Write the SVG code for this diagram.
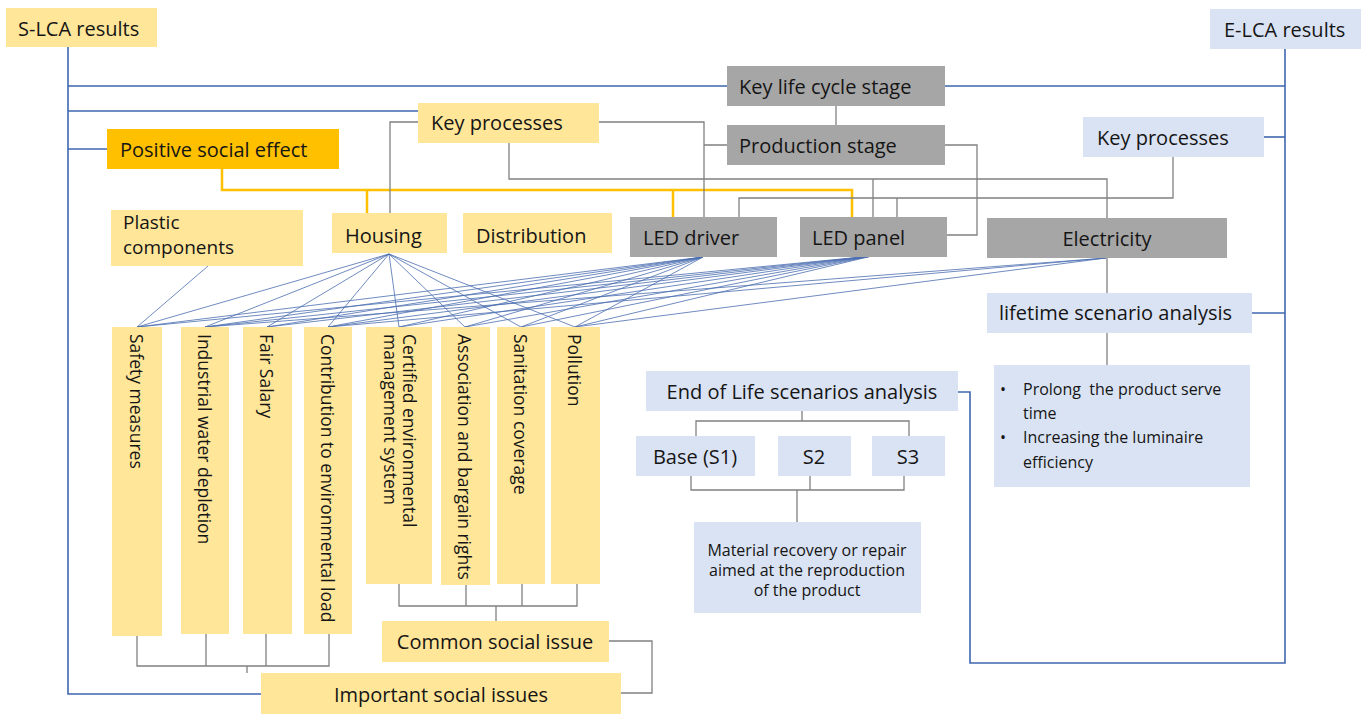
<svg xmlns="http://www.w3.org/2000/svg" width="1365" height="714" viewBox="0 0 1365 714">
<style>
.y{fill:#FFE699}.o{fill:#FFC000}.g{fill:#A6A6A6}.b{fill:#DAE3F3}
text{font-family:"Open Sans","Liberation Sans",sans-serif;fill:#151515}
.t{font-size:20px}.tv{font-size:17.5px}.ts{font-size:16px}
.m{text-anchor:middle}
.lb{stroke:#3F67AE;stroke-width:1.6;fill:none}
.lg{stroke:#808080;stroke-width:1.3;fill:none}
.lo{stroke:#FFC000;stroke-width:2.5;fill:none}
.lf{stroke:#4A6DB0;stroke-width:0.8;fill:none}
</style>
<rect width="1365" height="714" fill="#ffffff"/>
<g id="connectors">
<path class="lb" d="M68,47 V694 H261"/>
<path class="lb" d="M68,86 H727 M945,86 H1285"/>
<path class="lb" d="M68,111 H418"/>
<path class="lb" d="M68,149 H107"/>
<path class="lb" d="M1285,49 V663 H970 V392 H958"/>
<path class="lb" d="M1264,137 H1285"/>
<path class="lb" d="M1252,313 H1285"/>
<path class="lo" d="M222,169 V190 H852 V217 M367,190 V213 M673,190 V217"/>
<path class="lg" d="M836,106 V125"/>
<path class="lg" d="M418,122 H390 V213"/>
<path class="lg" d="M599,122 H704 V217 M727,145 H704"/>
<path class="lg" d="M945,145 H977 V235 H947"/>
<path class="lg" d="M509,143 V179 H1107 V218 M873,179 V217"/>
<path class="lg" d="M1173,157 V198 H739 V217 M897,198 V217"/>
<path class="lg" d="M1107,258 V293 M1107,333 V365"/>
<path class="lg" d="M802,411 V421 M696,436 V421 H909 V436"/>
<path class="lg" d="M691,476 V490 H904 V476 M810,476 V490 M797,490 V522"/>
<path class="lg" d="M137,636 V666 H329 V634 M206,634 V666 M266,634 V666 M247,666 V673"/>
<path class="lg" d="M399,584 V606 H577 V584 M466,585 V606 M522,584 V606 M496,606 V621"/>
<path class="lg" d="M609,641 H652 V693 H621"/>
<path class="lf" d="M208,266 L137,327"/>
<path class="lf" d="M389,254 L137,327 M389,254 L205,327 M389,254 L267,327 M389,254 L328,327 M389,254 L399,327 M389,254 L465,327 M389,254 L521,327 M389,254 L575,327"/>
<path class="lf" d="M703,257 L137,327 M703,257 L205,327 M703,257 L267,327 M703,257 L328,327 M703,257 L399,327 M703,257 L465,327 M703,257 L521,327 M703,257 L575,327"/>
<path class="lf" d="M872,256 L137,327 M872,256 L205,327 M872,256 L267,327 M872,256 L328,327 M872,256 L399,327 M872,256 L465,327 M872,256 L521,327 M872,256 L575,327"/>
<path class="lf" d="M1106,258 L205,327 M1106,258 L328,327 M1106,258 L575,327"/>
</g>
<g id="n-slca"><rect class="y" x="6" y="8" width="151" height="39"/><text class="t" x="18" y="36">S-LCA results</text></g>
<g id="n-elca"><rect class="b" x="1210" y="9" width="151" height="40"/><text class="t" x="1224" y="37">E-LCA results</text></g>
<g id="n-keystage"><rect class="g" x="727" y="66" width="218" height="40"/><text class="t" x="739" y="94">Key life cycle stage</text></g>
<g id="n-keyproc-s"><rect class="y" x="418" y="103" width="181" height="40"/><text class="t" x="431" y="130">Key processes</text></g>
<g id="n-prod"><rect class="g" x="727" y="125" width="218" height="40"/><text class="t" x="739" y="153">Production stage</text></g>
<g id="n-positive"><rect class="o" x="107" y="129" width="232" height="40"/><text class="t" x="120" y="157">Positive social effect</text></g>
<g id="n-keyproc-e"><rect class="b" x="1083" y="117" width="181" height="40"/><text class="t" x="1097" y="145">Key processes</text></g>
<g id="n-plastic"><rect class="y" x="111" y="210" width="192" height="56"/><text style="font-size:19px"><tspan x="123" y="229">Plastic</tspan><tspan x="123" y="254">components</tspan></text></g>
<g id="n-housing"><rect class="y" x="332" y="213" width="115" height="40"/><text class="t" x="345" y="243">Housing</text></g>
<g id="n-distribution"><rect class="y" x="463" y="213" width="149" height="40"/><text class="t" x="476" y="243">Distribution</text></g>
<g id="n-leddriver"><rect class="g" x="630" y="217" width="147" height="40"/><text class="t" x="643" y="245">LED driver</text></g>
<g id="n-ledpanel"><rect class="g" x="800" y="217" width="147" height="40"/><text class="t" x="812" y="245">LED panel</text></g>
<g id="n-electricity"><rect class="g" x="987" y="218" width="240" height="40"/><text class="t m" x="1107" y="246">Electricity</text></g>
<g id="n-lifetime"><rect class="b" x="987" y="293" width="265" height="40"/><text class="t" x="999" y="320">lifetime scenario analysis</text></g>
<g id="n-bullets"><rect class="b" x="994" y="365" width="256" height="122"/>
<text class="ts" xml:space="preserve"><tspan x="1000" y="395">•</tspan><tspan x="1023" y="395">Prolong  the product serve</tspan><tspan x="1023" y="419">time</tspan><tspan x="1000" y="443">•</tspan><tspan x="1023" y="443">Increasing the luminaire</tspan><tspan x="1023" y="468">efficiency</tspan></text></g>
<g id="n-eol"><rect class="b" x="646" y="371" width="312" height="40"/><text class="t m" x="802" y="399">End of Life scenarios analysis</text></g>
<g id="n-s1"><rect class="b" x="636" y="436" width="119" height="40"/><text class="t m" x="695" y="464">Base (S1)</text></g>
<g id="n-s2"><rect class="b" x="778" y="436" width="73" height="40"/><text class="t m" x="814" y="464">S2</text></g>
<g id="n-s3"><rect class="b" x="872" y="436" width="73" height="40"/><text class="t m" x="908" y="464">S3</text></g>
<g id="n-material"><rect class="b" x="694" y="522" width="227" height="91"/>
<text class="ts m"><tspan x="807" y="556">Material recovery or repair</tspan><tspan x="807" y="576">aimed at the reproduction</tspan><tspan x="807" y="596">of the product</tspan></text></g>
<g id="n-safety"><rect class="y" x="112" y="327" width="50" height="309"/><text class="tv" transform="translate(130,334) rotate(90)">Safety measures</text></g>
<g id="n-water"><rect class="y" x="181" y="327" width="48" height="307"/><text class="tv" transform="translate(198,334) rotate(90)">Industrial water depletion</text></g>
<g id="n-salary"><rect class="y" x="243" y="327" width="49" height="307"/><text class="tv" transform="translate(260,334) rotate(90)">Fair Salary</text></g>
<g id="n-contribution"><rect class="y" x="304" y="327" width="48" height="307"/><text class="tv" transform="translate(321,334) rotate(90)">Contribution to environmental load</text></g>
<g id="n-certified"><rect class="y" x="366" y="327" width="66" height="257"/><text class="tv" transform="translate(403,334) rotate(90)"><tspan x="0" y="0">Certified environmental</tspan><tspan x="0" y="19">management system</tspan></text></g>
<g id="n-association"><rect class="y" x="441" y="327" width="49" height="258"/><text class="tv" transform="translate(458,334) rotate(90)">Association and bargain rights</text></g>
<g id="n-sanitation"><rect class="y" x="497" y="327" width="48" height="257"/><text class="tv" transform="translate(514,334) rotate(90)">Sanitation coverage</text></g>
<g id="n-pollution"><rect class="y" x="551" y="327" width="49" height="257"/><text class="tv" transform="translate(568,334) rotate(90)">Pollution</text></g>
<g id="n-common"><rect class="y" x="382" y="621" width="227" height="41"/><text class="t m" x="495" y="649">Common social issue</text></g>
<g id="n-important"><rect class="y" x="261" y="673" width="360" height="41"/><text class="t m" x="441" y="702">Important social issues</text></g>
</svg>
